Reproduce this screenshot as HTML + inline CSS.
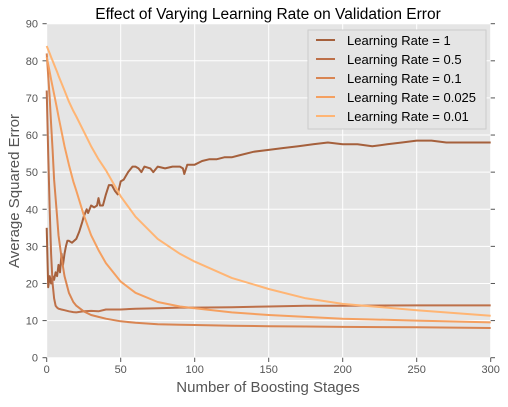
<!DOCTYPE html>
<html><head><meta charset="utf-8"><style>
body{margin:0;background:#fff;width:508px;height:402px;overflow:hidden;font-family:"Liberation Sans",sans-serif}
</style></head><body>
<svg id="chart" width="508" height="402" xmlns="http://www.w3.org/2000/svg">
<text x="268" y="19" font-size="15.5" text-anchor="middle" fill="#000">Effect of Varying Learning Rate on Validation Error</text>
<rect x="46.7" y="23.7" width="444" height="334" fill="#e5e5e5"/>
<g id="grid"></g><g id="ticks"></g><g id="lines"></g>
<text x="268" y="392" font-size="15" text-anchor="middle" fill="#555">Number of Boosting Stages</text>
<text transform="translate(19,191) rotate(-90)" font-size="15" text-anchor="middle" fill="#555">Average Squared Error</text>
<g id="legend"></g>
</svg>
<script>
const xTicks=[0,50,100,150,200,250,300];
const yTicks=[0,10,20,30,40,50,60,70,80,90];
const seriesNames=["Learning Rate = 1","Learning Rate = 0.5","Learning Rate = 0.1","Learning Rate = 0.025","Learning Rate = 0.01"];
const colors=["#a5603c","#bd7049","#d98552","#f5a060","#ffb574"];
const lr1Stages=[0,1,2,3,4,5,6,7,8,9,10,11,12,13,14,15,17,20,22,24,25,27,28,30,32,34,35,36,38,40,42,44,46,48,50,52,55,58,60,62,64,66,70,72,75,80,85,90,92,93,95,100,105,110,115,120,125,130,140,150,160,170,180,190,200,210,220,230,240,250,260,270,280,290,300];
const lr1=[35,19,22,20,22,21,23,22,25,23,28,25,28,30,31.5,31.5,31,32,34,36.5,38,40,39,41,40.5,41,43,41,41,44,46.5,46.5,45,44,47.5,48,50,51.5,51.5,51,50,51.5,51,50,51.5,51,51.5,51.5,51,49.5,52,52,53,53.5,53.5,54,54,54.5,55.5,56,56.5,57,57.5,58,57.5,57.5,57,57.5,58,58.5,58.5,58,58,58,58];
const smoothStages=[0,1,2,3,4,5,6,7,8,10,12,15,18,20,25,30,35,40,50,60,75,90,100,125,150,175,200,250,300];
const lr05=[72,55,40,28,20,16,14,13.5,13.2,13,12.8,12.5,12.3,12.2,12.5,12.6,12.5,13,13,13.2,13.3,13.5,13.5,13.6,13.8,14,14,14.1,14.1];
const lr01=[82,76,70,63,56,48,43,38,33,27,22,17.5,15,14,12.5,11.5,11,10.5,9.8,9.4,9,8.9,8.8,8.6,8.5,8.4,8.3,8.2,8];
const lr0025=[81,79,77,75,73,71,69,67,65,61,57,52,47.5,45,38.5,33,29,25.5,20.5,17.5,15,13.8,13.3,12.2,11.5,11,10.5,10,9.5];
const lr001=[84,83,82,81,80,79,78,77,76,74,72,69,66.5,65,61,57,53.5,50.5,43.5,38,32,28,25.9,21.5,18.5,16,14.5,12.8,11.3];
const X=v=>46.7+v*444/300, Y=v=>357.7-v*334/90;
const NS="http://www.w3.org/2000/svg";
function mk(t,a,p){const e=document.createElementNS(NS,t);for(const k in a)e.setAttribute(k,a[k]);p.appendChild(e);return e;}
const grid=document.getElementById('grid'),ticks=document.getElementById('ticks'),lines=document.getElementById('lines'),leg=document.getElementById('legend');
xTicks.forEach(t=>{const g=mk('line',{x1:X(t),x2:X(t),y1:23.7,y2:357.7,stroke:'#fff','stroke-width':1},grid);

const m=mk('line',{x1:X(t),x2:X(t),y1:357.7,y2:362,stroke:'#555','stroke-width':1},ticks);

const l=mk('text',{x:X(t),y:373,'font-size':11,'text-anchor':'middle',fill:'#555'},ticks);l.textContent=t;
});
yTicks.forEach(t=>{const g=mk('line',{x1:46.7,x2:490.7,y1:Y(t),y2:Y(t),stroke:'#fff','stroke-width':1},grid);

const m=mk('line',{x1:42.5,x2:46.7,y1:Y(t),y2:Y(t),stroke:'#555','stroke-width':1},ticks);

const m2=mk('line',{x1:490.7,x2:495,y1:Y(t),y2:Y(t),stroke:'#555','stroke-width':1},ticks);

const l=mk('text',{x:38,y:Y(t)+4,'font-size':11,'text-anchor':'end',fill:'#555'},ticks);l.textContent=t;
});
const all=[[lr1Stages,lr1],[smoothStages,lr05],[smoothStages,lr01],[smoothStages,lr0025],[smoothStages,lr001]];
all.forEach((s,i)=>{const pts=s[0].map((x,j)=>X(x).toFixed(1)+','+Y(s[1][j]).toFixed(1)).join(' ');
const p=mk('polyline',{points:pts,fill:'none',stroke:colors[i],'stroke-width':2,'stroke-linejoin':'round'},lines);
});
const lb=mk('rect',{x:308,y:30,width:178,height:99,fill:'#e5e5e5',stroke:'#ccc','stroke-width':1},leg);

seriesNames.forEach((n,i)=>{const y=40+i*19;
const l=mk('line',{x1:316,x2:335,y1:y,y2:y,stroke:colors[i],'stroke-width':2},leg);

const t=mk('text',{x:347,y:y+5,'font-size':13,fill:'#000'},leg);t.textContent=n;
});
</script>
</body></html>
